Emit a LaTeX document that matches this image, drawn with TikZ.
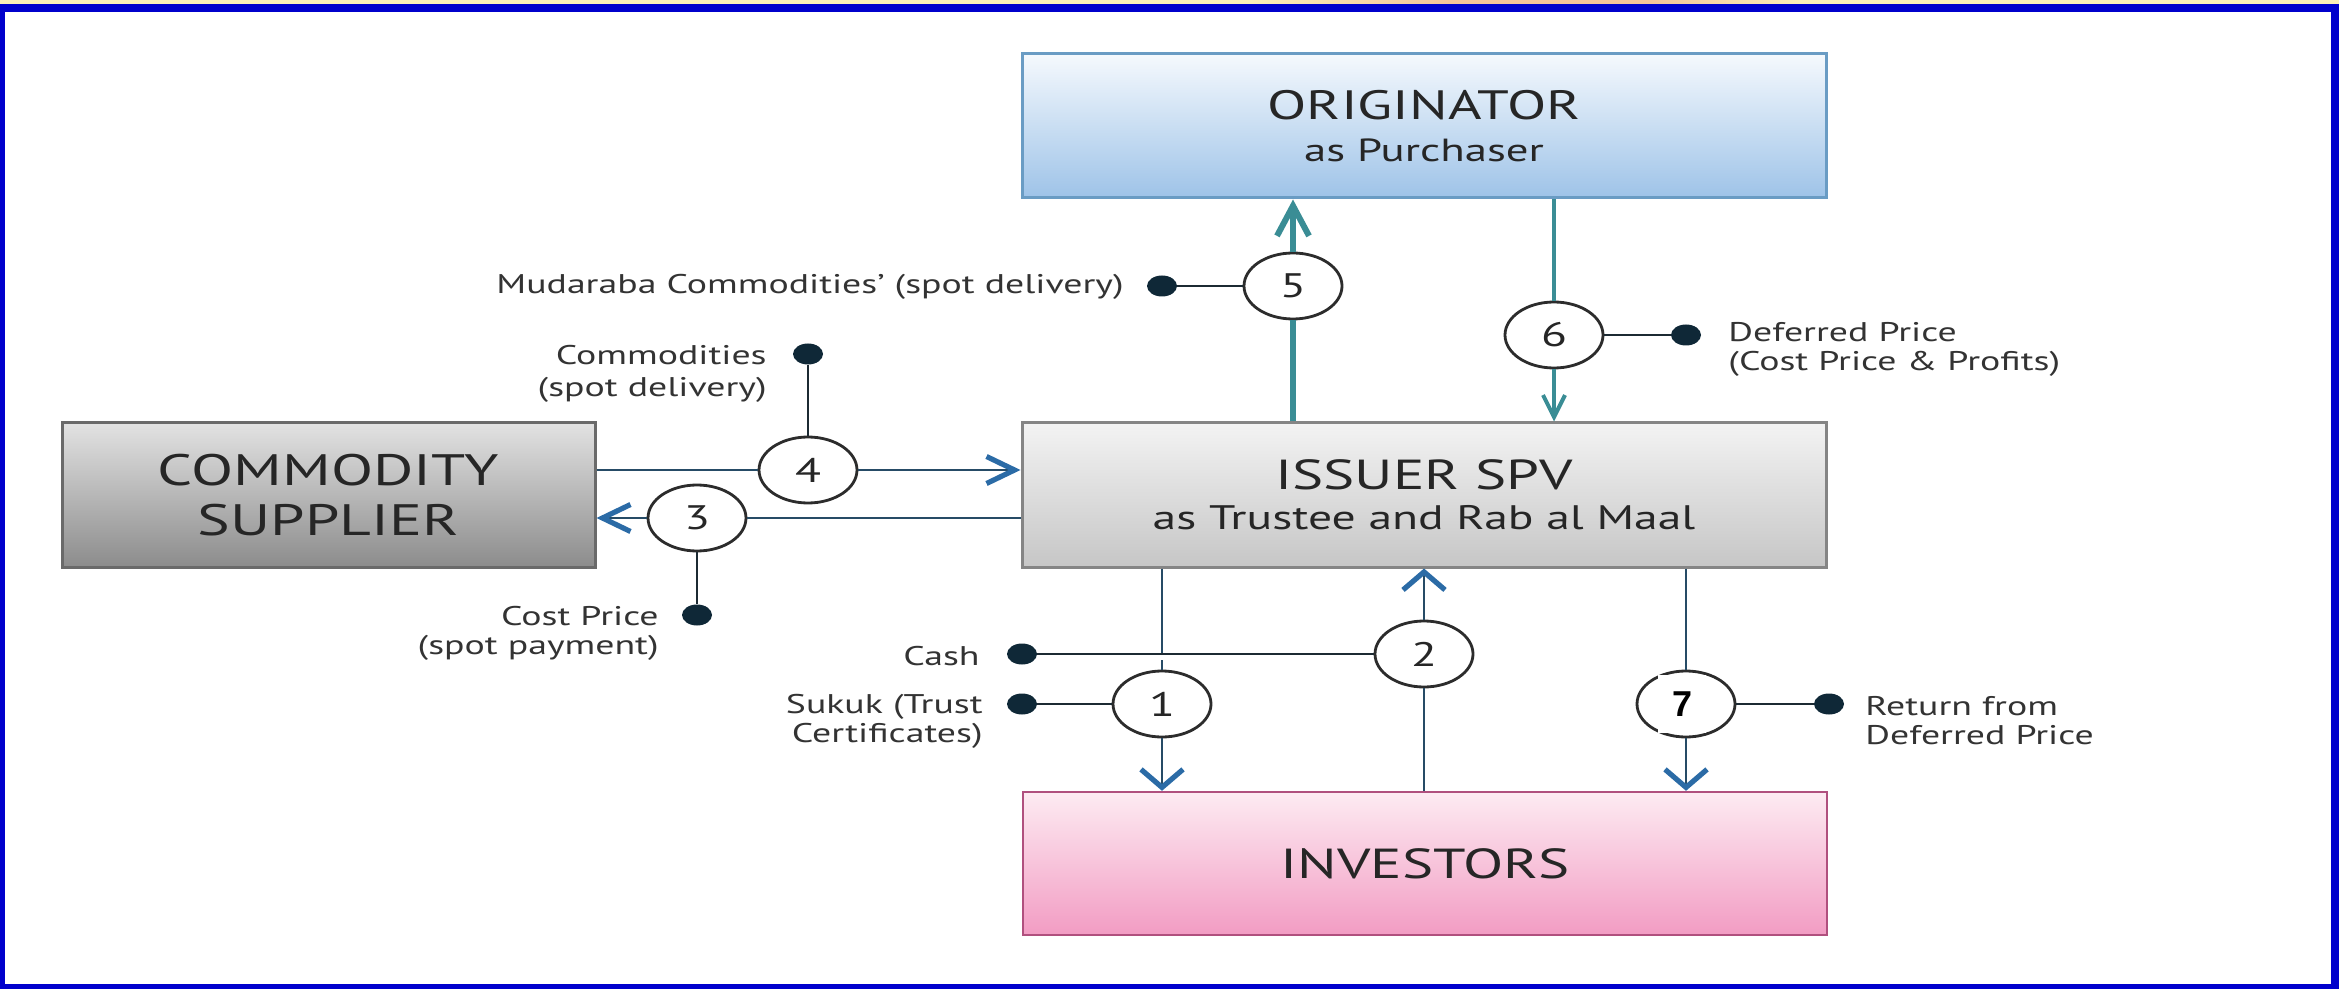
\documentclass[tikz,border=0pt]{standalone}
\usepackage{fontspec}
\setmainfont{PT Sans}[FakeStretch=1.4]
\newfontfamily\sevenfont{Liberation Sans}
\usetikzlibrary{arrows.meta,shapes.geometric}

\definecolor{frameblue}{HTML}{0000CC}
\definecolor{stripyellow}{HTML}{FBEFB8}
\definecolor{striporange}{HTML}{F4C49A}
\definecolor{origtop}{HTML}{F5F9FD}
\definecolor{origbot}{HTML}{9EC3E8}
\definecolor{origline}{HTML}{6A9CC4}
\definecolor{spvtop}{HTML}{F3F3F3}
\definecolor{spvbot}{HTML}{C6C6C6}
\definecolor{spvline}{HTML}{858585}
\definecolor{suptop}{HTML}{E2E2E2}
\definecolor{supbot}{HTML}{8C8C8C}
\definecolor{supline}{HTML}{6A6A6A}
\definecolor{invtop}{HTML}{FDEBF2}
\definecolor{invbot}{HTML}{F29CC3}
\definecolor{invline}{HTML}{B0507E}
\definecolor{boxtext}{HTML}{262626}
\definecolor{labtext}{HTML}{333333}
\definecolor{flowline}{HTML}{264B66}
\definecolor{flowtip}{HTML}{2B6BA6}
\definecolor{tealline}{HTML}{3A8D95}
\definecolor{ringline}{HTML}{2C2C2C}
\definecolor{dotfill}{HTML}{0F2837}
\definecolor{stemline}{HTML}{1C2A33}

\begin{document}
\begin{tikzpicture}[x=0.5pt, y=-0.5pt,
  box/.style={rectangle, draw, line width=1.5pt, inner sep=0pt, align=center,
    text=boxtext, minimum width=402pt, minimum height=72pt},
  num/.style={ellipse, draw=ringline, line width=1.4pt, fill=white,
    minimum width=49pt, minimum height=33pt, inner sep=0pt, text=boxtext,
    font=\fontsize{17}{17}\selectfont},
  dot/.style={ellipse, fill=dotfill, minimum width=15pt, minimum height=10.5pt, inner sep=0pt},
  lab/.style={inner sep=0pt, text=labtext, font=\fontsize{13.5}{14.5}\selectfont},
  flow/.style={draw=flowline, line width=1.2pt},
  stem/.style={draw=stemline, line width=1pt},
  tealflow/.style={draw=tealline},
  vtip/.tip={Straight Barb[length=9pt,width=21pt,line width=2.6pt,color=flowtip]},
  htip/.tip={Straight Barb[length=14pt,width=13.5pt,line width=2.6pt,color=flowtip]},
  tealbig/.tip={Straight Barb[length=15pt,width=16pt,line width=3pt]},
  tealsmall/.tip={Straight Barb[length=11pt,width=11pt,line width=2pt]},
  sevenpatch/.style={fill=white, inner sep=0pt, minimum width=24pt, minimum height=29pt,
    font=\sevenfont\bfseries\fontsize{18}{18}\selectfont, text=black}
]
\useasboundingbox (0,0) rectangle (2339,989);

% frame
\fill[stripyellow] (0,0) rectangle (2339,5);
\shade[left color=stripyellow, right color=striporange] (1250,0) rectangle (1450,5);
\fill[striporange] (1450,0) rectangle (1650,5);
\shade[left color=striporange, right color=stripyellow] (1650,0) rectangle (1800,5);
\fill[frameblue] (0,4) rectangle (2339,989);
\fill[white] (5,12) rectangle (2331,984);

% parties
\node[box, draw=origline, top color=origtop, bottom color=origbot,
  font=\fontsize{16}{20.75}\selectfont] (orig) at (1424,126)
  {{\fontsize{20.5}{20.75}\selectfont ORIGINATOR}\\as Purchaser};
\node[box, draw=spvline, top color=spvtop, bottom color=spvbot,
  font=\fontsize{17}{19.75}\selectfont] (spv) at (1424,495)
  {{\fontsize{21}{19.75}\selectfont ISSUER SPV}\\as Trustee and Rab al Maal};
\node[box, draw=supline, top color=suptop, bottom color=supbot,
  minimum width=266.5pt, font=\fontsize{22}{25}\selectfont] (sup) at (328.5,495)
  {COMMODITY\\SUPPLIER};
\node[box, draw=invline, line width=1.2pt, top color=invtop, bottom color=invbot,
  minimum height=71.5pt, font=\fontsize{21}{21}\selectfont] (inv) at (1425,863.5)
  {INVESTORS};

% step markers
\node[num] (c1) at (1162,704) {1};
\node[num] (c2) at (1424,654) {2};
\node[num] (c3) at (697,518) {3};
\node[num] (c4) at (808,470) {4};
\node[num] (c5) at (1293,286) {5};
\node[num] (c6) at (1554,335) {6};
\node[num] (c7) at (1686,704) {};
\node[sevenpatch] (n7) at (1682,704) {7};

% label dots
\node[dot] (dsukuk) at (1022,704) {};
\node[dot] (dcash) at (1022,654) {};
\node[dot] (d3) at (697,615) {};
\node[dot] (d4) at (808,354) {};
\node[dot] (d5) at (1162,286) {};
\node[dot] (d6) at (1686,335) {};
\node[dot] (d7) at (1829,704) {};

% flows
\draw[flow] (spv.south -| c1) -- (dcash -| c1);
\draw[flow] ([yshift=-3pt]dcash -| c1) -- (c1.north);
\draw[flow, -vtip] (c1.south) -- (inv.north -| c1);
\draw[flow] (inv.north -| c2) -- (c2.south);
\draw[flow, -vtip] (c2.north) -- (spv.south -| c2);
\draw[flow] (spv.west |- c3) -- (c3.east);
\draw[flow, -htip] (c3.west) -- (sup.east |- c3);
\draw[flow] (sup.east |- c4) -- (c4.west);
\draw[flow, -htip] (c4.east) -- (spv.west |- c4);
\draw[tealflow, line width=3pt] (spv.north -| c5) -- (c5.south);
\draw[tealflow, line width=3pt, -tealbig] (c5.north) -- (orig.south -| c5);
\draw[tealflow, line width=2.2pt] (orig.south -| c6) -- (c6.north);
\draw[tealflow, line width=2.2pt, -tealsmall] (c6.south) -- (spv.north -| c6);
\draw[flow] (spv.south -| c7) -- (c7.north);
\draw[flow, -vtip] (c7.south) -- (inv.north -| c7);

% label stems
\draw[stem] (dsukuk) -- (c1.west);
\draw[stem] (dcash) -- (c2.west);
\draw[stem] (d3) -- (c3.south);
\draw[stem] (d4) -- (c4.north);
\draw[stem] (d5) -- (c5.west);
\draw[stem] (d6) -- (c6.east);
\draw[stem] (d7) -- (c7.east);

% labels
\node[lab, anchor=east] (lcash) at (980,656) {Cash};
\node[lab, anchor=east, align=right] (lsukuk) at (983,721) {Sukuk (Trust\\Certificates)};
\node[lab, anchor=east, align=right] (l3) at (659,633) {Cost Price\\(spot payment)};
\node[lab, anchor=east, align=right, font=\fontsize{13.5}{16}\selectfont] (l4) at (767,374) {Commodities\\(spot delivery)};
\node[lab, anchor=east] (l5) at (1124,287) {Mudaraba Commodities’ (spot delivery)};
\node[lab, anchor=west, align=left] (l6) at (1728,349) {Deferred Price\\(Cost Price \& Profits)};
\node[lab, anchor=west, align=left] (l7) at (1865,721) {Return from\\Deferred Price};
\end{tikzpicture}
\end{document}
